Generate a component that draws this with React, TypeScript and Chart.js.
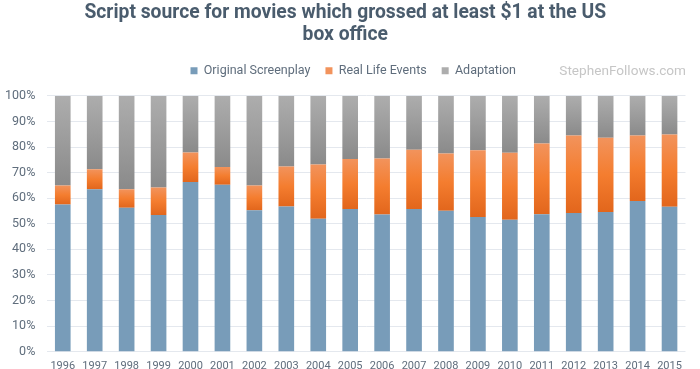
import React, { useEffect, useRef } from 'react';
import { Chart, registerables } from 'chart.js';

Chart.register(...registerables);

const titleLines = ['Script source for movies which grossed at least $1 at the US', 'box office'];
const watermarkText = 'StephenFollows.com';

const years = ['1996', '1997', '1998', '1999', '2000', '2001', '2002', '2003', '2004', '2005',
  '2006', '2007', '2008', '2009', '2010', '2011', '2012', '2013', '2014', '2015'];

const originalScreenplay = [57.5, 63.5, 56.3, 53.4, 66.3, 65.3, 55.3, 56.8, 52.0, 55.8,
  53.6, 55.8, 55.1, 52.7, 51.6, 53.7, 54.2, 54.6, 58.9, 56.7];
const realLifeEvents = [7.5, 7.8, 7.2, 10.8, 11.6, 6.9, 9.7, 15.6, 21.2, 19.5,
  21.9, 23.1, 22.4, 26.0, 26.2, 27.7, 30.3, 29.0, 25.6, 28.2];
const adaptation = [35.0, 28.7, 36.5, 35.8, 22.1, 27.8, 35.0, 27.6, 26.8, 24.7,
  24.5, 21.1, 22.5, 21.3, 22.2, 18.6, 15.5, 16.4, 15.5, 15.1];

const yTickStep = 10;
const yMin = 0;
const yMax = 100;

const BLUE = '#789cb9';
const ORANGE = '#f47d2f';
const GRAY = '#9b9b9b';
const ORANGE_STOPS = ['#f2935c', '#f47d2f', '#e2661c'];
const GRAY_STOPS = ['#adadad', '#9c9c9c', '#8a8a8a'];
const TEXT = '#5f6d7c';

function gradientFill(stops: string[], flat: string, below: (i: number) => number, own: number[]) {
  return (ctx: any) => {
    if (ctx.type !== 'data') return flat;
    const chart = ctx.chart;
    const ys = chart.scales && chart.scales.y;
    if (!ys || !chart.chartArea) return flat;
    const i = ctx.dataIndex;
    const lo = below(i);
    const yTop = ys.getPixelForValue(lo + own[i]);
    const yBot = ys.getPixelForValue(lo);
    if (!isFinite(yTop) || !isFinite(yBot) || yTop === yBot) return flat;
    const g = chart.ctx.createLinearGradient(0, yTop, 0, yBot);
    g.addColorStop(0, stops[0]);
    g.addColorStop(0.5, stops[1]);
    g.addColorStop(1, stops[2]);
    return g;
  };
}

const legendSpacer = {
  id: 'legendSpacer',
  afterInit(chart: any) {
    const legend = chart.legend;
    if (!legend || legend._spaced) return;
    const origFit = legend.fit;
    legend.fit = function () {
      origFit.call(this);
      this.height += 8.8;
    };
    const origDraw = legend.draw;
    legend.draw = function (...args: any[]) {
      const c = this.ctx;
      c.save();
      c.translate(8, 0);
      origDraw.apply(this, args);
      c.restore();
    };
    legend._spaced = true;
  },
};

const watermark = {
  id: 'watermark',
  afterDraw(chart: any) {
    const lg = chart.legend;
    const hb = lg && lg.legendHitBoxes && lg.legendHitBoxes[0];
    const y = hb ? hb.top + hb.height / 2 + 0.5 : 69;
    const c = chart.ctx;
    c.save();
    c.font = '13.6px Roboto';
    c.fillStyle = '#c6c6c6';
    c.textAlign = 'right';
    c.textBaseline = 'middle';
    c.fillText(watermarkText, 686, y);
    c.restore();
  },
};

export default function App() {
  const ref = useRef<HTMLCanvasElement>(null);

  useEffect(() => {
    document.body.style.margin = '0';
    const canvas = ref.current;
    if (!canvas) return;
    Chart.defaults.font.family = 'Roboto';
    const chart = new Chart(canvas, {
      type: 'bar',
      data: {
        labels: years,
        datasets: [
          {
            label: 'Original Screenplay',
            data: originalScreenplay,
            backgroundColor: BLUE,
            borderWidth: 0,
          },
          {
            label: 'Real Life Events',
            data: realLifeEvents,
            backgroundColor: gradientFill(ORANGE_STOPS, ORANGE, (i) => originalScreenplay[i], realLifeEvents),
            borderWidth: 0,
          },
          {
            label: 'Adaptation',
            data: adaptation,
            backgroundColor: gradientFill(GRAY_STOPS, GRAY, (i) => originalScreenplay[i] + realLifeEvents[i], adaptation),
            borderWidth: 0,
          },
        ],
      },
      options: {
        responsive: false,
        animation: false,
        devicePixelRatio: 1,
        layout: { padding: { left: 5, right: 14.5, top: 0, bottom: 0 } },
        datasets: { bar: { categoryPercentage: 1, barPercentage: 0.49 } },
        plugins: {
          title: {
            display: true,
            text: titleLines,
            color: '#4a5c6d',
            font: { family: 'Roboto', size: 19.3, weight: 'bold', lineHeight: 1.16 },
            padding: { top: 1.6, bottom: 3.2 },
          },
          legend: {
            display: true,
            position: 'top',
            labels: {
              color: TEXT,
              font: { family: 'Roboto', size: 12.5 },
              boxWidth: 7,
              boxHeight: 7,
              padding: 15,
            },
          },
          tooltip: { enabled: false },
        },
        scales: {
          x: {
            stacked: true,
            grid: { display: false, drawTicks: false },
            border: { display: false },
            ticks: {
              color: TEXT,
              font: { family: 'Roboto', size: 11 },
              padding: 8.3,
              maxRotation: 0,
              autoSkip: false,
            },
            afterFit: (scale: any) => { scale.height = 22.3; },
          },
          y: {
            stacked: true,
            min: yMin,
            max: yMax,
            grid: { color: '#e4e8ee', lineWidth: 1, drawTicks: false },
            border: { display: false },
            ticks: {
              stepSize: yTickStep,
              color: TEXT,
              font: { family: 'Roboto', size: 12.5 },
              padding: 11.5,
              callback: (v: any) => v + '%',
            },
            afterFit: (scale: any) => { scale.width = 41.8; },
          },
        },
      },
      plugins: [legendSpacer, watermark],
    } as any);
    return () => chart.destroy();
  }, []);

  return (
    <div style={{ position: 'fixed', left: 0, top: 0, width: 700, height: 369, overflow: 'hidden', background: '#fff' }}>
      <canvas ref={ref} width={700} height={374} style={{ display: 'block', width: 700, height: 374 }} />
    </div>
  );
}
